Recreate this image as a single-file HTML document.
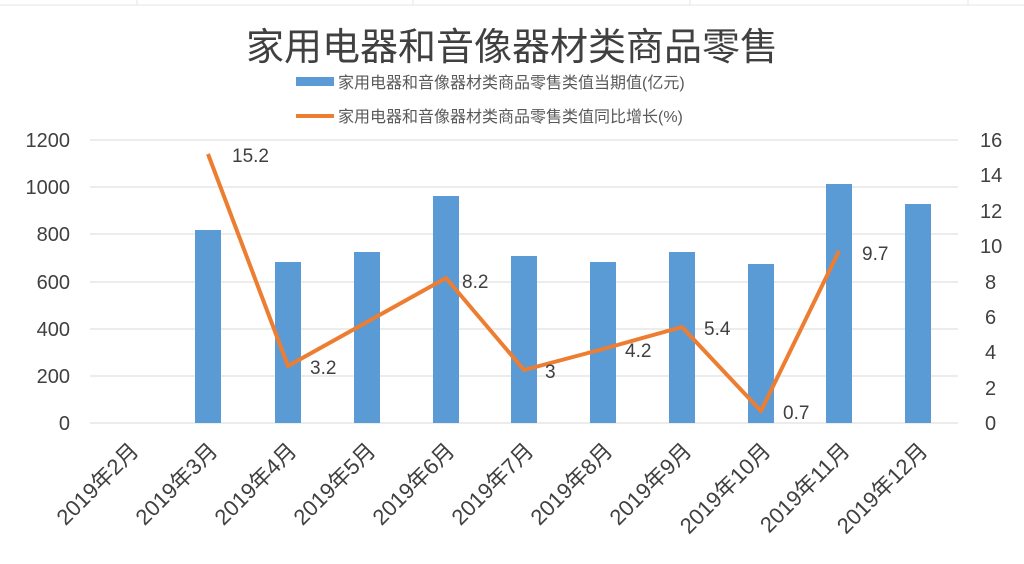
<!DOCTYPE html><html><head><meta charset="utf-8"><style>body{margin:0;background:#fff}svg{display:block;font-family:"Liberation Sans","Noto Sans CJK SC",sans-serif}</style></head><body>
<svg width="1024" height="564" viewBox="0 0 1024 564">
<rect width="1024" height="564" fill="#fff"/>
<g stroke="#e4e4e4" stroke-width="1"><line x1="0" y1="5" x2="1024" y2="5"/><line x1="137" y1="0" x2="137" y2="5"/><line x1="413" y1="0" x2="413" y2="5"/><line x1="690" y1="0" x2="690" y2="5"/><line x1="968" y1="0" x2="968" y2="5"/></g>
<text x="512" y="60" font-size="38" text-anchor="middle" fill="#404040">家用电器和音像器材类商品零售</text>
<rect x="296" y="77" width="38" height="9" fill="#5b9bd5"/>
<text x="338" y="88" font-size="16" fill="#595959">家用电器和音像器材类商品零售类值当期值(亿元)</text>
<rect x="296" y="114" width="38" height="4" fill="#ed7d31"/>
<text x="338" y="122" font-size="16" fill="#595959">家用电器和音像器材类商品零售类值同比增长(%)</text>
<g stroke="#d9d9d9" stroke-width="1">
<line x1="90" y1="140" x2="958" y2="140"/><line x1="90" y1="187" x2="958" y2="187"/><line x1="90" y1="234" x2="958" y2="234"/><line x1="90" y1="282" x2="958" y2="282"/><line x1="90" y1="329" x2="958" y2="329"/><line x1="90" y1="376" x2="958" y2="376"/><line x1="90" y1="423" x2="958" y2="423"/></g>
<g font-size="20" fill="#404040" text-anchor="end">
<text x="70" y="147">1200</text><text x="70" y="194">1000</text><text x="70" y="241">800</text><text x="70" y="289">600</text><text x="70" y="336">400</text><text x="70" y="383">200</text><text x="70" y="430">0</text></g>
<g font-size="20" fill="#404040">
<text x="980" y="147">16</text><text x="980" y="182">14</text><text x="980" y="218">12</text><text x="980" y="253">10</text><text x="985" y="289">8</text><text x="985" y="324">6</text><text x="985" y="359">4</text><text x="985" y="395">2</text><text x="985" y="430">0</text></g>
<g fill="#5b9bd5">
<rect x="195" y="230" width="26" height="193"/><rect x="275" y="262" width="26" height="161"/><rect x="354" y="252" width="26" height="171"/><rect x="433" y="196" width="26" height="227"/><rect x="511" y="256" width="26" height="167"/><rect x="590" y="262" width="26" height="161"/><rect x="669" y="252" width="26" height="171"/><rect x="748" y="264" width="26" height="159"/><rect x="826" y="184" width="26" height="239"/><rect x="905" y="204" width="26" height="219"/></g>
<polyline fill="none" stroke="#ed7d31" stroke-width="4" stroke-linejoin="round" points="208,154 288,366 367,322 446,278 524,370 603,349 682,327 761,411 839,251"/>
<g font-size="19" fill="#404040">
<text x="232" y="162">15.2</text><text x="310" y="374">3.2</text><text x="462" y="288">8.2</text><text x="545" y="378">3</text><text x="625" y="357">4.2</text><text x="704" y="335">5.4</text><text x="783" y="419">0.7</text><text x="862" y="260">9.7</text></g>
<g font-size="22" fill="#404040" text-anchor="end">
<text transform="translate(140,452) rotate(-45)">2019年2月</text>
<text transform="translate(219,452) rotate(-45)">2019年3月</text>
<text transform="translate(298,452) rotate(-45)">2019年4月</text>
<text transform="translate(377,452) rotate(-45)">2019年5月</text>
<text transform="translate(456,452) rotate(-45)">2019年6月</text>
<text transform="translate(535,452) rotate(-45)">2019年7月</text>
<text transform="translate(614,452) rotate(-45)">2019年8月</text>
<text transform="translate(693,452) rotate(-45)">2019年9月</text>
<text transform="translate(772,452) rotate(-45)">2019年10月</text>
<text transform="translate(851,452) rotate(-45)">2019年11月</text>
<text transform="translate(929,452) rotate(-45)">2019年12月</text></g>
</svg></body></html>
